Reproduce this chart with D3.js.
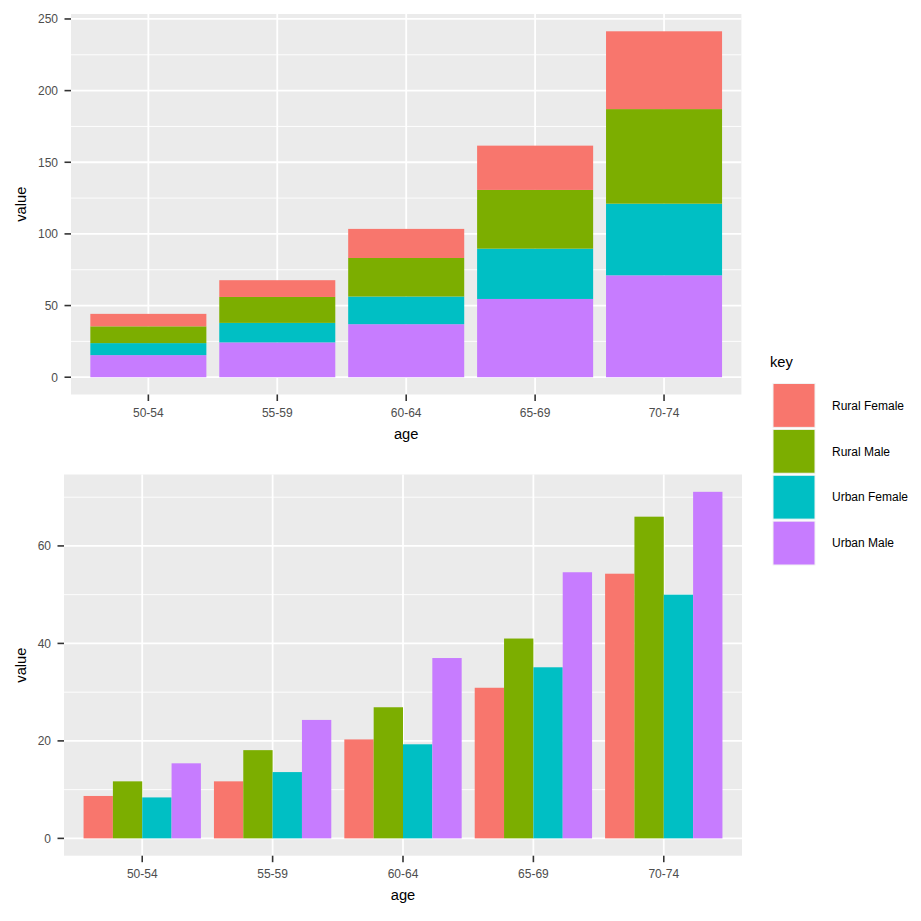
<!DOCTYPE html>
<html>
<head>
<meta charset="utf-8">
<script src="https://cdn.jsdelivr.net/npm/d3@7"></script>
<style>
  body { margin: 0; background: #fff; }
  text { font-family: "Liberation Sans", Arial, sans-serif; }
</style>
</head>
<body>
<svg id="chart" width="921" height="921"></svg>
<script>
// VADeaths data
const ages = ["50-54", "55-59", "60-64", "65-69", "70-74"];
const keys = ["Rural Female", "Rural Male", "Urban Female", "Urban Male"];
const ruralMale   = [11.7, 18.1, 26.9, 41.0, 66.0];
const ruralFemale = [8.7, 11.7, 20.3, 30.9, 54.3];
const urbanMale   = [15.4, 24.3, 37.0, 54.6, 71.1];
const urbanFemale = [8.4, 13.6, 19.3, 35.1, 50.0];
const topTicks = [0, 50, 100, 150, 200, 250];
const topMinor = [25, 75, 125, 175, 225];
const bottomTicks = [0, 20, 40, 60];
const bottomMinor = [10, 30, 50, 70];

const colours = {"Rural Female": "#F8766D", "Rural Male": "#7CAE00", "Urban Female": "#00BFC4", "Urban Male": "#C77CFF"};
const seriesByKey = {"Rural Female": ruralFemale, "Rural Male": ruralMale, "Urban Female": urbanFemale, "Urban Male": urbanMale};

const rows = ages.map((a, i) => {
  const r = {age: a};
  keys.forEach(k => r[k] = seriesByKey[k][i]);
  return r;
});

const svg = d3.select("#chart");
const panelBg = "#EBEBEB";
const tickColour = "#333333";
const labelColour = "#4D4D4D";
const tickLen = 6.5;

// draws the panel background, grid and axes; returns scales
function panel(x0, x1, y0, y1, yDomain, ticks, minor) {
  const g = svg.append("g");
  // ggplot discrete expansion: 0.6 on each side
  const step = (x1 - x0) / (ages.length - 1 + 1.2);
  const xc = a => x0 + step * (0.6 + ages.indexOf(a));
  const y = d3.scaleLinear().domain(yDomain).range([y1, y0]);

  g.append("rect").attr("x", x0).attr("y", y0).attr("width", x1 - x0).attr("height", y1 - y0).attr("fill", panelBg);
  g.selectAll(".minor").data(minor).join("line")
    .attr("x1", x0).attr("x2", x1).attr("y1", d => y(d)).attr("y2", d => y(d))
    .attr("stroke", "#fff").attr("stroke-width", 0.9);
  g.selectAll(".major").data(ticks).join("line")
    .attr("x1", x0).attr("x2", x1).attr("y1", d => y(d)).attr("y2", d => y(d))
    .attr("stroke", "#fff").attr("stroke-width", 1.8);
  g.selectAll(".vmajor").data(ages).join("line")
    .attr("x1", d => xc(d)).attr("x2", d => xc(d)).attr("y1", y0).attr("y2", y1)
    .attr("stroke", "#fff").attr("stroke-width", 1.8);

  // y axis
  g.selectAll(".ytick").data(ticks).join("line")
    .attr("x1", x0 - tickLen).attr("x2", x0).attr("y1", d => y(d)).attr("y2", d => y(d))
    .attr("stroke", tickColour).attr("stroke-width", 1.6);
  g.selectAll(".ylab").data(ticks).join("text")
    .attr("x", x0 - 13).attr("y", d => y(d)).attr("dy", "0.36em")
    .attr("text-anchor", "end").attr("font-size", "12px").attr("fill", labelColour)
    .text(d => d);
  // x axis
  g.selectAll(".xtick").data(ages).join("line")
    .attr("x1", d => xc(d)).attr("x2", d => xc(d)).attr("y1", y1).attr("y2", y1 + tickLen)
    .attr("stroke", tickColour).attr("stroke-width", 1.6);
  g.selectAll(".xlab").data(ages).join("text")
    .attr("x", d => xc(d)).attr("y", y1 + 22)
    .attr("text-anchor", "middle").attr("font-size", "12px").attr("fill", labelColour)
    .text(d => d);

  g.append("text").attr("x", (x0 + x1) / 2).attr("y", y1 + 44)
    .attr("text-anchor", "middle").attr("font-size", "14.7px").attr("fill", "#000").text("age");
  g.append("text").attr("transform", `translate(${26},${(y0 + y1) / 2}) rotate(-90)`)
    .attr("text-anchor", "middle").attr("font-size", "14.7px").attr("fill", "#000").text("value");

  return {g, xc, step, y};
}

/// top: stacked ///
const stackMax = d3.max(rows, r => d3.sum(keys, k => r[k]));
const topPanel = panel(71, 741.4, 14, 394.5, [-stackMax * 0.05, stackMax * 1.05], topTicks, topMinor);
// bottom of stack is the last key (Urban Male)
const stack = d3.stack().keys(keys.slice().reverse())(rows);
topPanel.g.selectAll(".layer").data(stack).join("g")
  .attr("fill", d => colours[d.key])
  .selectAll("rect").data(d => d).join("rect")
    .attr("x", d => topPanel.xc(d.data.age) - topPanel.step * 0.45)
    .attr("width", topPanel.step * 0.9)
    .attr("y", d => topPanel.y(d[1]))
    .attr("height", d => topPanel.y(d[0]) - topPanel.y(d[1]));

/// bottom: dodged ///
const dodgeMax = d3.max(rows, r => d3.max(keys, k => r[k]));
const botPanel = panel(64, 742, 474.5, 855.7, [-dodgeMax * 0.05, dodgeMax * 1.05], bottomTicks, bottomMinor);
const sub = d3.scaleBand().domain(keys).range([-botPanel.step * 0.45, botPanel.step * 0.45]);
botPanel.g.selectAll(".grp").data(rows).join("g")
  .selectAll("rect").data(r => keys.map(k => ({age: r.age, key: k, value: r[k]}))).join("rect")
    .attr("x", d => botPanel.xc(d.age) + sub(d.key))
    .attr("width", sub.bandwidth())
    .attr("y", d => botPanel.y(d.value))
    .attr("height", d => botPanel.y(0) - botPanel.y(d.value))
    .attr("fill", d => colours[d.key]);

/// legend ///
const leg = svg.append("g");
leg.append("text").attr("x", 770).attr("y", 367).attr("font-size", "14.7px").attr("fill", "#000").text("key");
const legY = d3.scaleBand().domain(keys).range([382.5, 566]);
leg.selectAll("rect").data(keys).join("rect")
  .attr("x", 773).attr("y", d => legY(d) + 1).attr("width", 42).attr("height", legY.bandwidth() - 2)
  .attr("fill", d => colours[d]).attr("stroke", "#F2F2F2").attr("stroke-width", 1);
leg.selectAll(".ll").data(keys).join("text")
  .attr("x", 832).attr("y", d => legY(d) + legY.bandwidth() / 2).attr("dy", "0.35em")
  .attr("font-size", "12px").attr("fill", "#000").text(d => d);
</script>
</body>
</html>
